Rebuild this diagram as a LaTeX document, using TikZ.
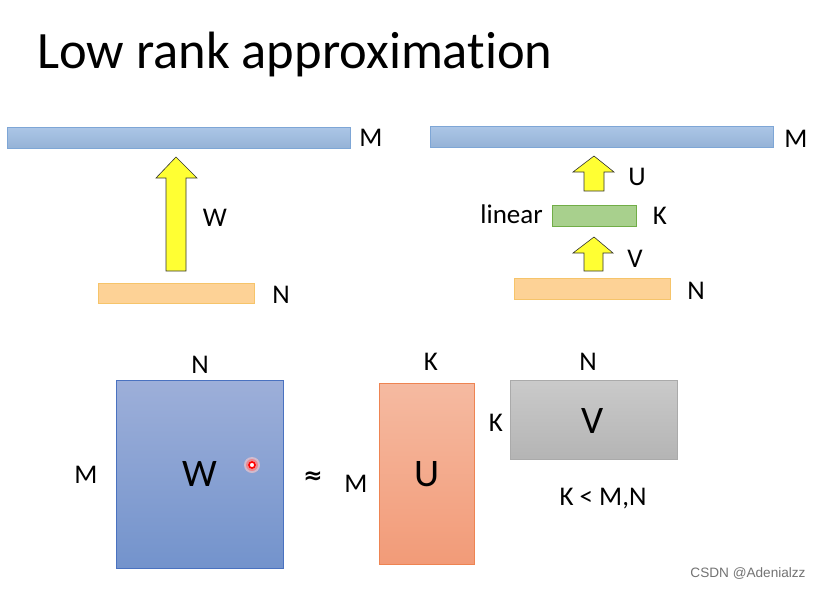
\documentclass[tikz,border=0pt]{standalone}
\usepackage{fontspec}
\setmainfont[Ligatures=NoCommon]{Carlito}
\newfontfamily\wmfont{Liberation Sans}
\newfontfamily\symfont{DejaVu Sans}
\definecolor{barblue}{HTML}{9DBCE2}
\definecolor{barblueD}{HTML}{7EA6D6}
\definecolor{barorange}{HTML}{FDD296}
\definecolor{barorangeD}{HTML}{F6C46A}
\definecolor{bargreen}{HTML}{A8D08D}
\definecolor{bargreenD}{HTML}{71AD47}
\definecolor{arrowyellow}{HTML}{FFFF33}
\definecolor{wtop}{HTML}{9DAFD9}
\definecolor{wbot}{HTML}{7393CC}
\definecolor{wdraw}{HTML}{4A72C0}
\definecolor{utop}{HTML}{F5BAA1}
\definecolor{ubot}{HTML}{F29B78}
\definecolor{udraw}{HTML}{EE8452}
\definecolor{vfill}{HTML}{C4C4C4}
\definecolor{vdraw}{HTML}{AAAAAA}
\begin{document}
\begin{tikzpicture}[x=1pt,y=-1pt,
  lbl/.style={font=\fontsize{27}{32}\selectfont, text=black, inner sep=0pt},
  big/.style={font=\fontsize{39}{44}\selectfont, text=black, inner sep=0pt},
  bluebar/.style={draw=barblueD, top color=barblue!85!white, bottom color=barblue!95!black, line width=0.8pt},
  orangebar/.style={draw=barorangeD, fill=barorange, line width=0.8pt},
  greenbar/.style={draw=bargreenD, fill=bargreen, line width=0.8pt},
  blockarrow/.style={draw=black!80, fill=arrowyellow, line width=0.6pt, line join=miter}
]
\useasboundingbox[fill=white] (0,0) rectangle (822,589);

% title
\node[anchor=base west, inner sep=0pt, font=\fontsize{52.5}{60}\selectfont] (title) at (37,68) {Low rank approximation};

% ---- top left
\draw[bluebar] (7,127) rectangle (350,148);
\node[lbl] (m1) at (371,138) {M};
\draw[blockarrow] (166,271) -- (166,178) -- (156,178) -- (176,157) -- (197,178) -- (186,178) -- (186,271) -- cycle;
\node[lbl] (w1) at (215,218) {W};
\draw[orangebar] (98,283) rectangle (254,303);
\node[lbl] (n1) at (281,295) {N};

% ---- top right
\draw[bluebar] (430,126) rectangle (773,147);
\node[lbl] (m2) at (796,139) {M};
\draw[blockarrow] (584,191) -- (584,172) -- (573,172) -- (594,156) -- (614,172) -- (604,172) -- (604,191) -- cycle;
\node[lbl] (u2) at (637,177) {U};
\draw[greenbar] (552,205) rectangle (636,226);
\node[lbl, anchor=east] (lin) at (543,214) {linear};
\node[lbl] (k2) at (660,216) {K};
\draw[blockarrow] (584,271) -- (584,253) -- (573,253) -- (594,237) -- (613,253) -- (603,253) -- (603,271) -- cycle;
\node[lbl] (v2) at (635,259) {V};
\draw[orangebar] (514,278) rectangle (670,299);
\node[lbl] (n2) at (696,291) {N};

% ---- bottom: W
\draw[draw=wdraw, top color=wtop, bottom color=wbot, line width=0.8pt] (116,380) rectangle (283,568);
\node[big] (wbig) at (200,474) {W};
\node[lbl] (n3) at (200,365) {N};
\node[lbl] (m3) at (86,475) {M};
% red pointer dot
\fill[red!20, opacity=0.6] (252,465) circle (8);
\fill[red!60, opacity=0.6] (252,465) circle (6);
\draw[red, line width=1.6pt, fill=white] (252,465) circle (3);

\node[font=\symfont\bfseries\fontsize{23}{28}\selectfont, inner sep=0pt] (approx) at (313,478) {≈};
\node[lbl] (m4) at (356,484) {M};

% U
\draw[draw=udraw, top color=utop, bottom color=ubot, line width=0.8pt] (379,383) rectangle (474,564);
\node[big] (ubig) at (427,474) {U};
\node[lbl] (k4) at (431,362) {K};

% V
\draw[draw=vdraw, top color=vfill!90!white, bottom color=vfill!92!black, line width=0.8pt] (510,380) rectangle (677,459);
\node[big] (vbig) at (593,421) {V};
\node[lbl] (n5) at (588,362) {N};
\node[lbl] (k5) at (496,423) {K};

\node[lbl] (cond) at (603,499) {K < M,N};

\node[font=\wmfont\fontsize{13.6}{16}\selectfont, text=black!55, inner sep=0pt] (wm) at (748,574) {CSDN @Adenialzz};
\end{tikzpicture}
\end{document}
